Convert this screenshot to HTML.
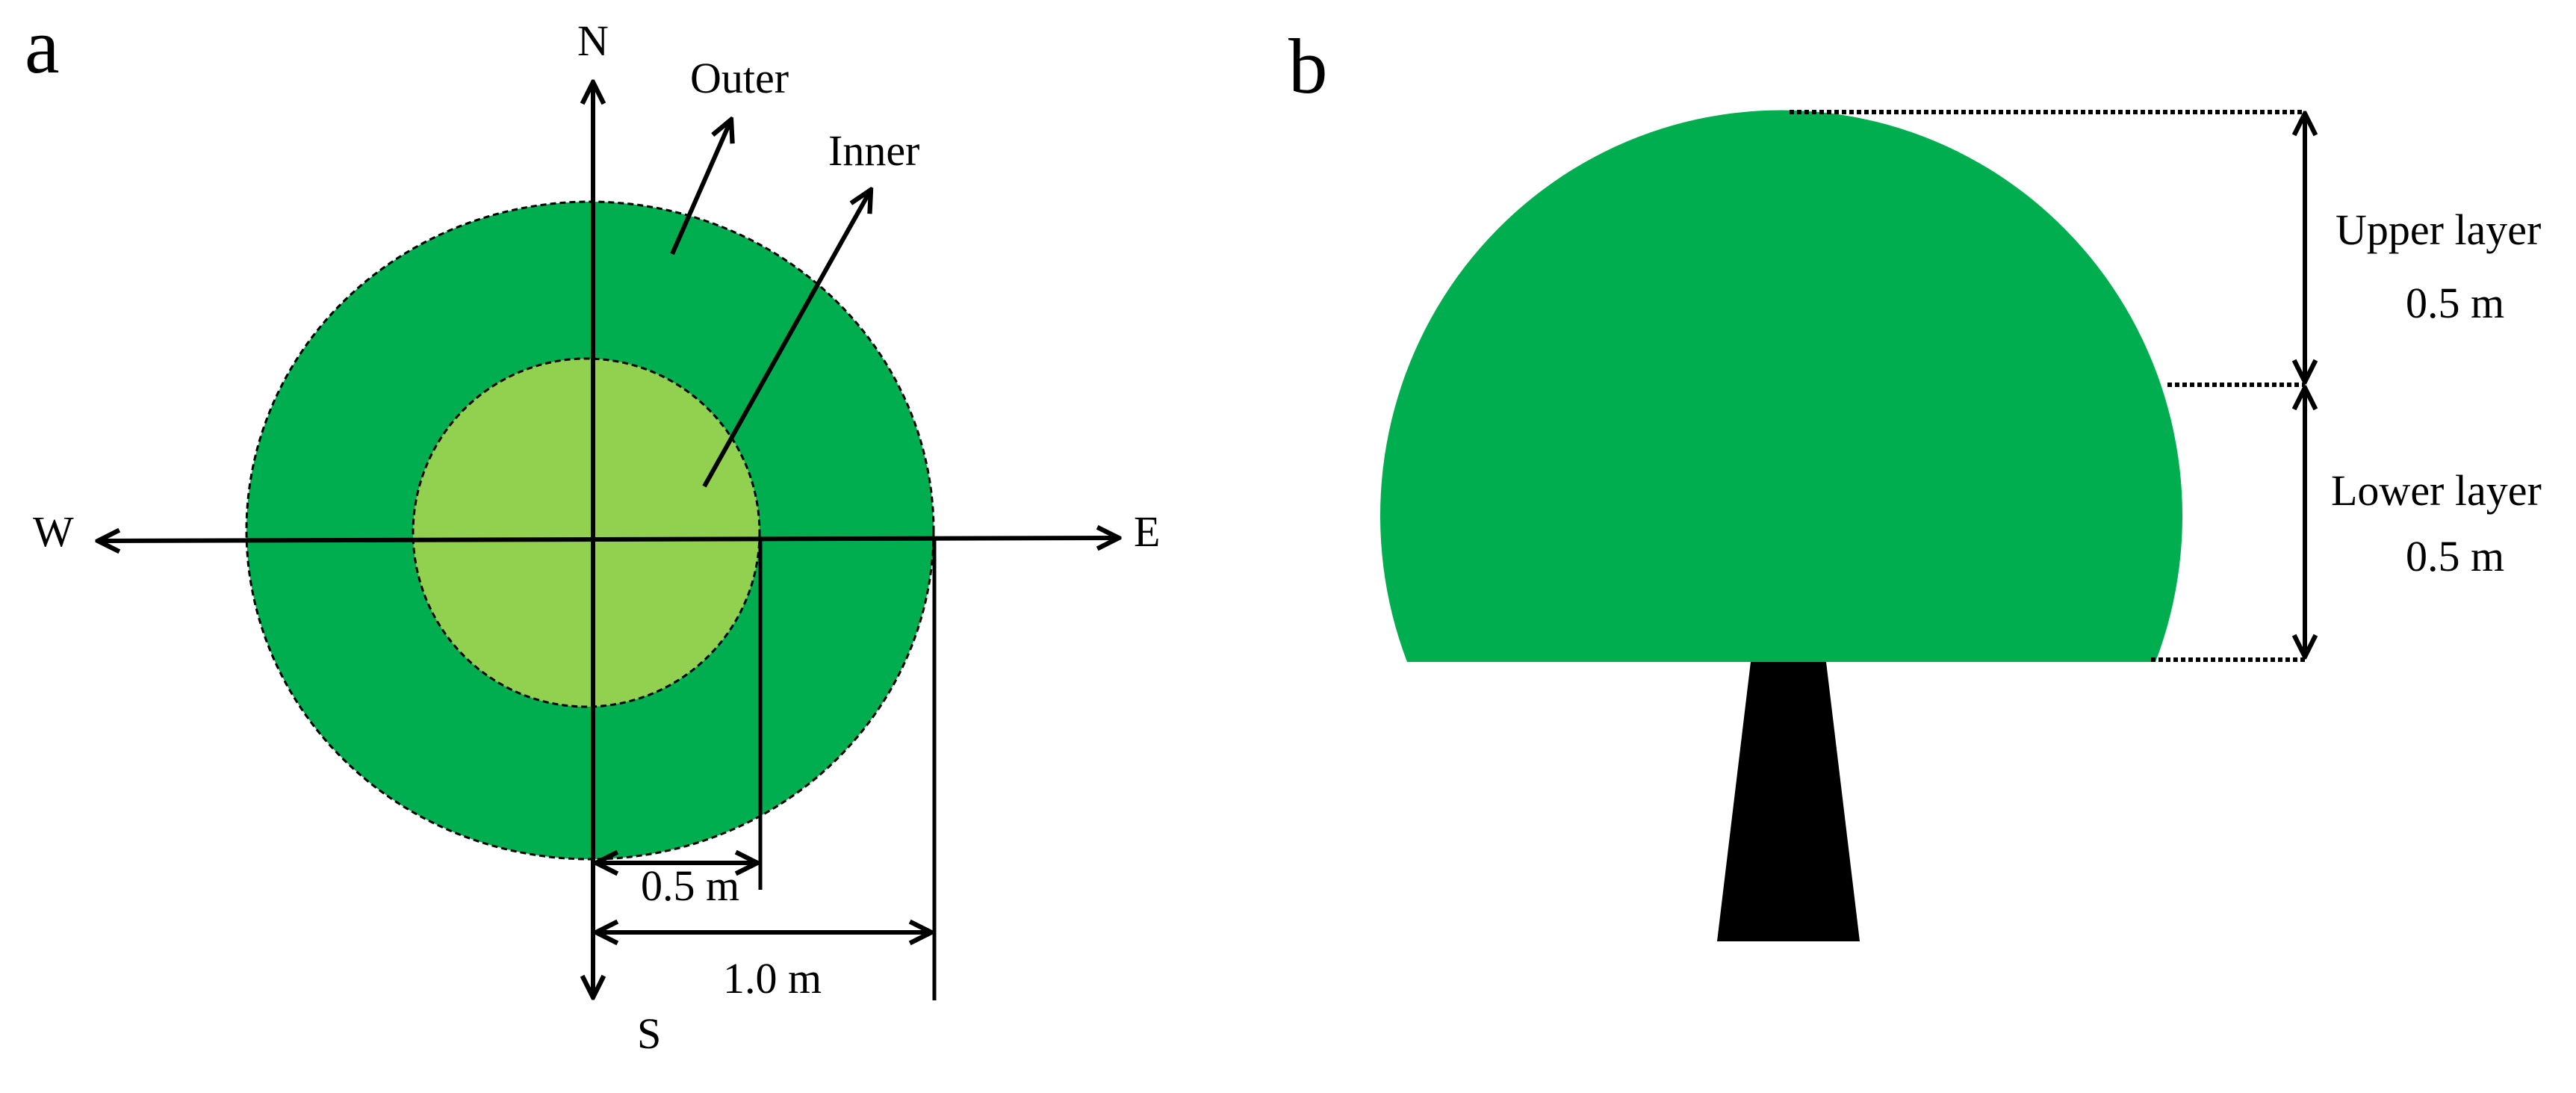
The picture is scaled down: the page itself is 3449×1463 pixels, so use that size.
<!DOCTYPE html>
<html><head><meta charset="utf-8"><style>html,body{margin:0;padding:0;background:#fff}svg{display:block}text{font-family:"Liberation Serif",serif}</style></head>
<body>
<svg width="3449" height="1463" viewBox="0 0 3449 1463" xmlns="http://www.w3.org/2000/svg" font-family="'Liberation Serif', serif">
<defs>
<marker id="ar" viewBox="0 0 20 20" refX="18" refY="10" markerWidth="6" markerHeight="6" orient="auto-start-reverse" markerUnits="strokeWidth">
<path d="M2,2 L18,10 L2,18" fill="none" stroke="#000" stroke-width="3.5"/>
</marker>
</defs>
<rect width="3449" height="1463" fill="#fff"/>
<!-- panel a -->
<text x="33" y="97" font-size="105">a</text>
<ellipse cx="790" cy="710" rx="460" ry="440" fill="#00ae4f" stroke="#000" stroke-width="3" stroke-dasharray="8,5"/>
<ellipse cx="785" cy="713" rx="232" ry="233" fill="#92d050" stroke="#000" stroke-width="3" stroke-dasharray="8,5"/>
<line x1="794" y1="1335" x2="794" y2="110" stroke="#000" stroke-width="6" marker-start="url(#ar)" marker-end="url(#ar)"/>
<line x1="131" y1="724" x2="1498" y2="720" stroke="#000" stroke-width="6" marker-start="url(#ar)" marker-end="url(#ar)"/>
<line x1="1018" y1="722" x2="1018" y2="1191" stroke="#000" stroke-width="5"/>
<line x1="1251" y1="722" x2="1251" y2="1339" stroke="#000" stroke-width="5"/>
<line x1="798" y1="1155" x2="1014" y2="1155" stroke="#000" stroke-width="6" marker-start="url(#ar)" marker-end="url(#ar)"/>
<line x1="798" y1="1248" x2="1247" y2="1248" stroke="#000" stroke-width="6" marker-start="url(#ar)" marker-end="url(#ar)"/>
<line x1="900" y1="340" x2="979" y2="160" stroke="#000" stroke-width="6" marker-end="url(#ar)"/>
<line x1="943" y1="651" x2="1166" y2="254" stroke="#000" stroke-width="6" marker-end="url(#ar)"/>
<g font-size="58">
<text x="794" y="74" text-anchor="middle">N</text>
<text x="44" y="731">W</text>
<text x="1518" y="731">E</text>
<text x="853" y="1403">S</text>
<text x="924" y="124">Outer</text>
<text x="1109" y="221">Inner</text>
<text x="858" y="1205">0.5 m</text>
<text x="968" y="1329">1.0 m</text>
</g>
<!-- panel b -->
<text x="1725" y="124" font-size="105">b</text>
<path d="M1884,886 A537,543 0 1 1 2886,886 Z" fill="#00ae4f"/>
<polygon points="2344,886 2445,886 2490,1260 2299,1260" fill="#000"/>
<g stroke="#000" stroke-width="6" stroke-dasharray="6,4">
<line x1="2396" y1="150" x2="3086" y2="150"/>
<line x1="2902" y1="515" x2="3086" y2="515"/>
<line x1="2880" y1="883" x2="3086" y2="883"/>
</g>
<line x1="3086" y1="152" x2="3086" y2="511" stroke="#000" stroke-width="6" marker-start="url(#ar)" marker-end="url(#ar)"/>
<line x1="3086" y1="519" x2="3086" y2="879" stroke="#000" stroke-width="6" marker-start="url(#ar)" marker-end="url(#ar)"/>
<g font-size="58">
<text x="3127" y="327">Upper layer</text>
<text x="3221" y="425">0.5 m</text>
<text x="3121" y="676">Lower layer</text>
<text x="3221" y="764">0.5 m</text>
</g>
</svg>
</body></html>
